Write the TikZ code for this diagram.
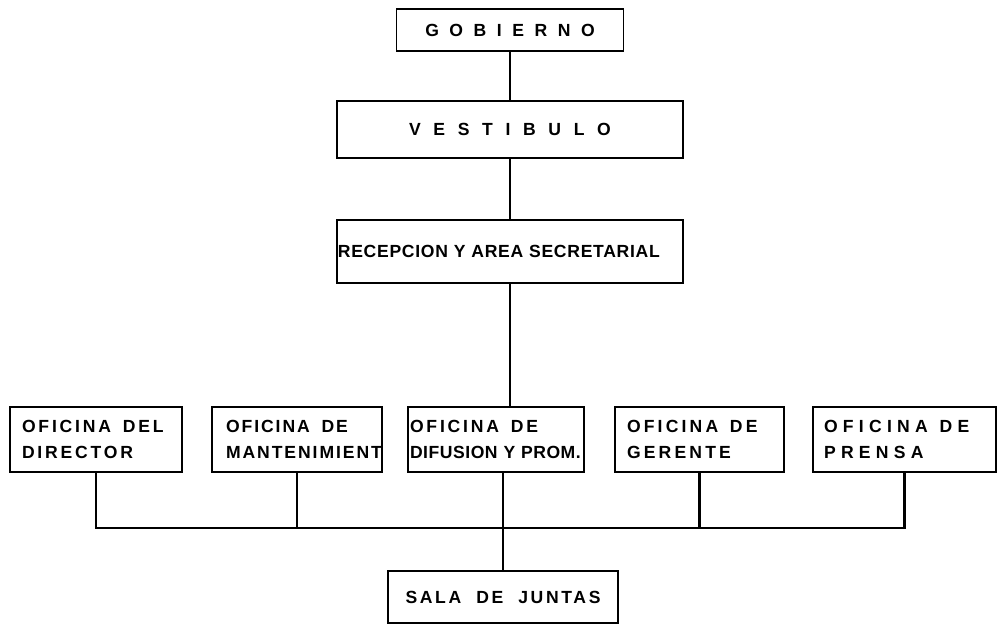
\documentclass[tikz,border=0pt]{standalone}
\usepackage{fontspec}
\newfontfamily\lettering{Liberation Sans}
\begin{document}
\begin{tikzpicture}[x=0.02cm, y=-0.02cm,
    every node/.style={font=\lettering\bfseries\fontsize{10}{14.8}\selectfont},
    spaced/.style={font=\lettering\bfseries\fontsize{10}{14.8}\selectfont\addfontfeatures{LetterSpace=#1}},
    box/.style={draw, line width=1.1pt, inner sep=0pt},
    office/.style n args={2}{box, minimum height=1.3cm, inner xsep=#2, text width=#1-2*#2, align=left},
    link/.style={line width=1.6pt}]
  \useasboundingbox (0,0) rectangle (998,625);
  \node[box, spaced=60, minimum width=4.54cm, minimum height=0.84cm] (gob) at (510,30) {GOBIERNO};
  \node[box, spaced=72, minimum width=6.92cm, minimum height=1.14cm] (vest) at (510,129.5) {VESTIBULO};
  \node[box, spaced=4, minimum height=1.26cm, inner xsep=0.5pt, text width=6.92cm-1pt, align=left] (recep) at (510,251.5) {RECEPCION Y AREA SECRETARIAL};
  % oficinas
  \node[office={3.44cm}{0.24cm}, spaced=16] (dir) at (96,439.5) {OFICINA\ \ DEL\\DIRECTOR};
  \node[office={3.40cm}{0.28cm}, spaced=11] (mant) at (297,439.5) {OFICINA\ \ DE\\MANTENIMIENT};
  \node[office={3.52cm}{0.04cm}, spaced=16] (dif) at (496,439.5) {OFICINA\ \ DE\\\addfontfeatures{LetterSpace=3}DIFUSION Y PROM.};
  \node[office={3.38cm}{0.24cm}, spaced=18] (ger) at (699.5,439.5) {OFICINA\ \ DE\\GERENTE};
  \node[office={3.66cm}{0.22cm}, spaced=30] (pren) at (904.5,439.5) {OFICINA\ \ DE\\PRENSA};
  \node[box, spaced=15, minimum width=4.6cm, minimum height=1.04cm] (sala) at (503,597) {SALA\ \ DE\ \ JUNTAS};
  % lineas
  \coordinate (bus) at (0,528);
  \draw[link] (gob) -- (vest);
  \draw[link] (vest) -- (recep);
  \draw[link] (recep.south) -- (recep.south |- dif.north);
  \draw[link] (dir.south) -- (dir.south |- bus) -- (pren.south |- bus) -- (pren.south);
  \foreach \n in {mant,ger} \draw[link] (\n.south) -- (\n.south |- bus);
  \draw[link] (sala.north |- dif.south) -- (sala.north);
\end{tikzpicture}
\end{document}
